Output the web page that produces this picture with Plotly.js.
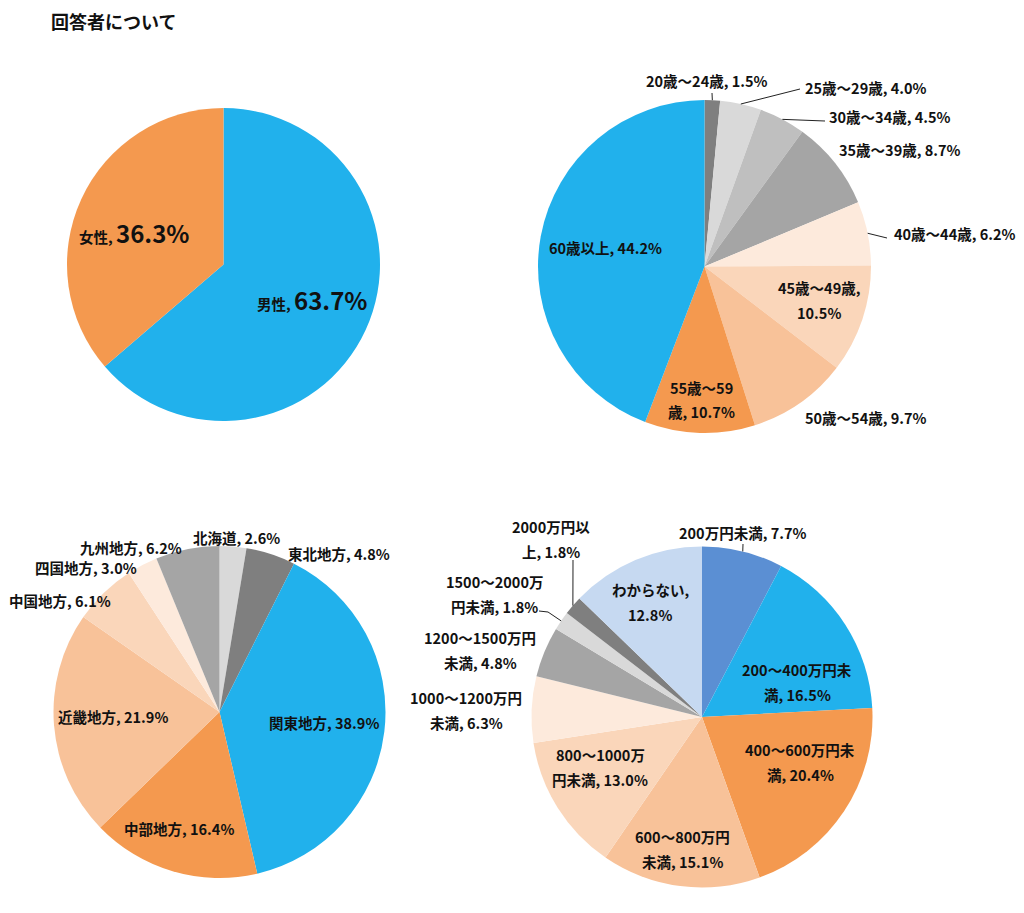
<!DOCTYPE html>
<html><head><meta charset="utf-8">
<script src="https://cdn.plot.ly/plotly-3.0.1.min.js"></script>
<style>body{margin:0;background:#fff}#chart{width:1024px;height:913px}</style>
</head><body><div id="chart"></div>
<script>
// ---------- data ----------
const chartTitle = '回答者について';

const genderLabels = ['男性', '女性'];
const genderValues = [63.7, 36.3];

const ageLabels = ['20歳〜24歳', '25歳〜29歳', '30歳〜34歳', '35歳〜39歳', '40歳〜44歳', '45歳〜49歳', '50歳〜54歳', '55歳〜59歳', '60歳以上'];
const ageValues = [1.5, 4.0, 4.5, 8.7, 6.2, 10.5, 9.7, 10.7, 44.2];

const regionLabels = ['北海道', '東北地方', '関東地方', '中部地方', '近畿地方', '中国地方', '四国地方', '九州地方'];
const regionValues = [2.6, 4.8, 38.9, 16.4, 21.9, 6.1, 3.0, 6.2];

const incomeLabels = ['200万円未満', '200〜400万円未満', '400〜600万円未満', '600〜800万円未満', '800〜1000万円未満', '1000〜1200万円未満', '1200〜1500万円未満', '1500〜2000万円未満', '2000万円以上', 'わからない'];
const incomeValues = [7.7, 16.5, 20.4, 15.1, 13.0, 6.3, 4.8, 1.8, 1.8, 12.8];

// ---------- styles / layout ----------
const W = 1024, H = 913;
const BLUE = '#21B1EC', ORANGE = '#F4994F', PEACH1 = '#F8C299', PEACH2 = '#FAD6BA', PEACH3 = '#FDEADC';
const G_DARK = '#7F7F7F', G_LIGHT = '#D9D9D9', G_MID = '#BFBFBF', G_GRAY = '#A5A5A5';
const IN_DARKBLUE = '#5B8FD3', IN_LIGHTBLUE = '#C6D9F1';

const genderColors = [BLUE, ORANGE];
const ageColors = [G_DARK, G_LIGHT, G_MID, G_GRAY, PEACH3, PEACH2, PEACH1, ORANGE, BLUE];
const regionColors = [G_LIGHT, G_DARK, BLUE, ORANGE, PEACH1, PEACH2, PEACH3, G_GRAY];
const incomeColors = [IN_DARKBLUE, BLUE, ORANGE, PEACH1, PEACH2, PEACH3, G_GRAY, G_LIGHT, G_DARK, IN_LIGHTBLUE];

// pie geometry in pixels: centre and radius
const pies = [
  {labels: genderLabels, values: genderValues, colors: genderColors, cx: 223.5, cy: 264.5, r: 156.5,
   // label placement: [x, y, splitIndex or null, leader tail points]
   place: [[312, 300], [134, 232]], big: true},
  {labels: ageLabels, values: ageValues, colors: ageColors, cx: 704.5, cy: 266.5, r: 166.5,
   place: [[707, 80, null, [[712, 93]]], [866, 87, null, [[800, 89]]], [890, 117, null, [[825, 121]]],
           [900, 150], [955, 234, null, [[887, 238]]], [819, 300, 8], [866, 417], [701, 399.5, 6], [605.5, 247]]},
  {labels: regionLabels, values: regionValues, colors: regionColors, cx: 219.5, cy: 712, r: 166,
   place: [[236, 537], [339, 553], [324, 722], [179, 828], [113, 716], [60, 600], [86, 567], [131, 547]]},
  {labels: incomeLabels, values: incomeValues, colors: incomeColors, cx: 702, cy: 717, r: 170.5,
   place: [[742, 532, null, [[743, 544]]], [797, 682, 10], [800, 762, 10], [682, 849, 9], [600, 767, 9],
           [466, 710, 11], [480, 650, 11], [494, 594, 10, [[548, 612], [539, 611]]], [551, 539, 7, [[573, 560]]],
           [650, 602, 6]]}
];

const FONT = 'Noto Sans CJK JP, Noto Sans, sans-serif';
const px = x => x / W, py = y => 1 - y / H;

const traces = [], annotations = [], shapes = [];

pies.forEach(p => {
  traces.push({
    type: 'pie', labels: p.labels, values: p.values, sort: false, direction: 'clockwise', rotation: 0,
    marker: {colors: p.colors, line: {width: 0}}, textinfo: 'none', hoverinfo: 'label+value',
    showlegend: false,
    domain: {x: [px(p.cx - p.r), px(p.cx + p.r)], y: [py(p.cy + p.r), py(p.cy - p.r)]}
  });
  const total = p.values.reduce((a, b) => a + b, 0);
  let cum = 0;
  p.values.forEach((v, i) => {
    const mid = (cum + v / 2) / total * 2 * Math.PI;
    cum += v;
    const [tx, ty, split, lead] = p.place[i];
    const full = p.labels[i] + ', ' + v.toFixed(1) + '%';
    let lines;
    if (p.big) {
      lines = [p.labels[i] + ', <span style="font-size:24px">' + v.toFixed(1) + '%</span>'];
    } else if (split) {
      lines = [full.slice(0, split), full.slice(split).trim()];
    } else {
      lines = [full];
    }
    const gap = 24.5;
    lines.forEach((t, k) => {
      annotations.push({
        xref: 'paper', yref: 'paper', x: px(tx), y: py(ty + (k - (lines.length - 1) / 2) * gap),
        text: t, showarrow: false, xanchor: 'center', yanchor: 'middle',
        font: {family: FONT, size: 14.5, color: '#111', weight: 600}
      });
    });
    if (lead) {
      const hx = p.cx + p.r * Math.sin(mid), hy = p.cy - p.r * Math.cos(mid);
      let path = 'M' + px(hx) + ',' + py(hy);
      lead.forEach(pt => { path += ' L' + px(pt[0]) + ',' + py(pt[1]); });
      shapes.push({type: 'path', xref: 'paper', yref: 'paper', path: path,
                   line: {color: '#222', width: 1}});
    }
  });
});

annotations.push({
  xref: 'paper', yref: 'paper', x: px(49), y: py(21), text: chartTitle, showarrow: false,
  xanchor: 'left', yanchor: 'middle', font: {family: FONT, size: 18, color: '#111', weight: 700}
});

Plotly.newPlot('chart', traces, {
  width: W, height: H, margin: {l: 0, r: 0, t: 0, b: 0},
  paper_bgcolor: '#fff', plot_bgcolor: '#fff',
  annotations: annotations, shapes: shapes
}, {displayModeBar: false, staticPlot: true});
</script>
</body></html>
